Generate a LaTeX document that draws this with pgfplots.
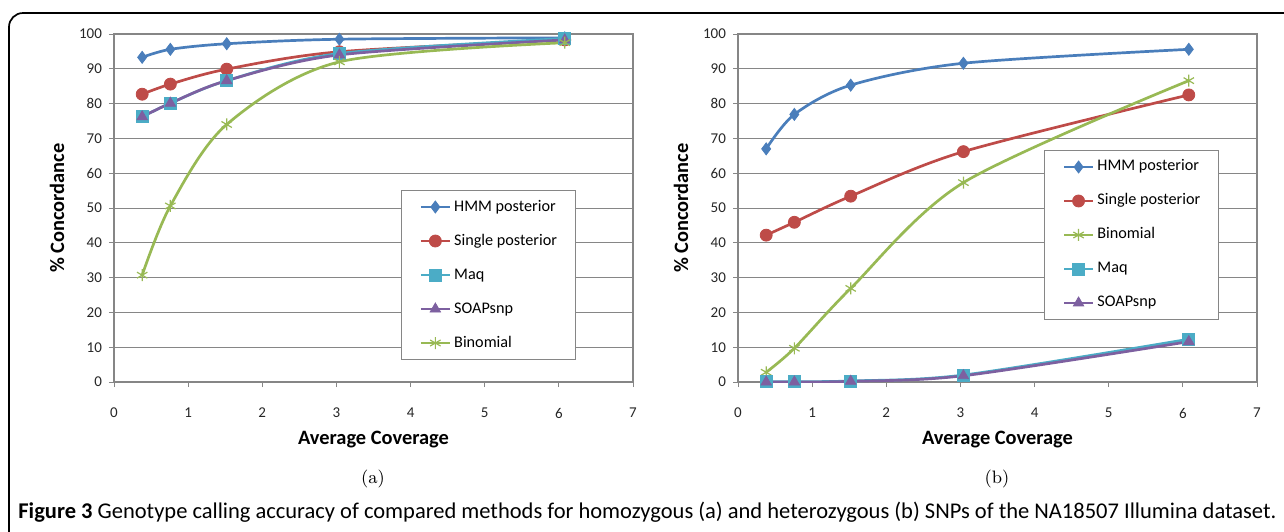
\documentclass[border=0pt]{standalone}
\usepackage{pgfplots}
\pgfplotsset{compat=1.18}
\usepackage{fontspec}
\newfontfamily\calibri{Carlito}
\definecolor{hmm}{HTML}{4A7EBB}
\definecolor{single}{HTML}{BE4B48}
\definecolor{maq}{HTML}{4BACC6}
\definecolor{soap}{HTML}{7D60A0}
\definecolor{binom}{HTML}{98B954}
\definecolor{gridgray}{HTML}{868686}

\pgfplotsset{
  myax/.style={
    scale only axis, width=259.5pt, height=174pt,
    xmin=0, xmax=7, ymin=0, ymax=100,
    xtick={0,1,...,7}, ytick={0,10,...,100},
    ymajorgrids, major grid style={color=gridgray, line width=0.5pt},
    axis line style={gridgray, line width=0.75pt},
    tick style={gridgray, line width=0.5pt},
    tick align=outside, major tick length=2.5pt,
    xtick pos=bottom, ytick pos=left,
    /pgf/number format/assume math mode=true,
    tick label style={font=\calibri\fontsize{7.5}{8}\selectfont, color=black!85},
    xticklabel style={yshift=-7pt},
    every axis x label/.style={at={(axis description cs:0.5,-0.166)}, anchor=center, font=\calibri\bfseries\fontsize{10.2}{12}\selectfont},
    every axis y label/.style={at={(axis description cs:-0.1098,0.5)}, rotate=90, anchor=center, font=\calibri\bfseries\fontsize{10.2}{12}\selectfont},
    xlabel={Average Coverage}, ylabel={\% Concordance},
    every axis plot/.append style={smooth, line width=1.35pt, mark size=3pt},
    legend image code/.code={\draw[mark repeat=2,mark phase=2] plot coordinates {(0pt,0pt)(7.25pt,0pt)(14.5pt,0pt)};},
    legend style={draw=gridgray, line width=0.5pt, fill=white,
      font=\calibri\fontsize{8.1}{9}\selectfont,
      inner xsep=9pt, inner ysep=4.3pt, row sep=9pt,
      cells={anchor=west},
      nodes={inner sep=0pt, text height=6pt, text depth=2pt},
      /tikz/every odd column/.append style={column sep=1.5pt}},
  },
  phmm/.style={color=hmm, mark=diamond*, mark options={fill=hmm, draw=hmm, line width=0.4pt}},
  psingle/.style={color=single, mark=*, mark options={fill=single, draw=single, line width=0.4pt}},
  pmaq/.style={color=maq, mark=square*, mark options={fill=maq, draw=maq, line width=0.4pt}},
  psoap/.style={color=soap, mark=triangle*, mark options={fill=soap, draw=soap, line width=0.4pt}},
  pbinom/.style={color=binom, mark=asterisk, mark options={draw=binom, line width=0.6pt}},
}

\begin{document}
\begin{tikzpicture}
\useasboundingbox (0,0) rectangle (642pt,-265.5pt);
\draw[line width=0.85pt, rounded corners=7pt] (4.5pt,-300pt) -- (4.5pt,-6.5pt) -- (700pt,-6.5pt);

\begin{axis}[myax, at={(57pt,-191pt)}, anchor=south west,
  legend style={at={(0.553,0.552)}, anchor=north west}]
\addplot[phmm] coordinates {(0.38,93.3) (0.76,95.6) (1.52,97.2) (3.04,98.5) (6.08,98.9)};
\addlegendentry{HMM posterior}
\addplot[psingle] coordinates {(0.38,82.7) (0.76,85.6) (1.52,89.9) (3.04,94.9) (6.08,98.3)};
\addlegendentry{Single posterior}
\addplot[pmaq] coordinates {(0.38,76.2) (0.76,80.1) (1.52,86.6) (3.04,94.4) (6.08,98.7)};
\addlegendentry{Maq}
\addplot[psoap] coordinates {(0.38,76.2) (0.76,80.1) (1.52,86.6) (3.04,94.0) (6.08,98.3)};
\addlegendentry{SOAPsnp}
\addplot[pbinom] coordinates {(0.38,30.7) (0.76,50.6) (1.52,74.0) (3.04,92.0) (6.08,97.5)};
\addlegendentry{Binomial}
\end{axis}

\begin{axis}[myax, at={(369pt,-191pt)}, anchor=south west,
  legend style={at={(0.590,0.667)}, anchor=north west}]
\addplot[phmm] coordinates {(0.38,67.0) (0.76,76.9) (1.52,85.3) (3.04,91.6) (6.08,95.6)};
\addlegendentry{HMM posterior}
\addplot[psingle] coordinates {(0.38,42.2) (0.76,45.9) (1.52,53.4) (3.04,66.2) (6.08,82.5)};
\addlegendentry{Single posterior}
\addplot[pbinom] coordinates {(0.38,2.8) (0.76,9.7) (1.52,26.9) (3.04,57.3) (6.08,86.6)};
\addlegendentry{Binomial}
\addplot[pmaq] coordinates {(0.38,0.1) (0.76,0.1) (1.52,0.3) (3.04,2.0) (6.08,12.3)};
\addlegendentry{Maq}
\addplot[psoap] coordinates {(0.38,0.0) (0.76,0.0) (1.52,0.2) (3.04,1.8) (6.08,11.6)};
\addlegendentry{SOAPsnp}
\end{axis}

\node[font=\fontsize{9}{11}\selectfont] at (186.5pt,-239.5pt) {(a)};
\node[font=\fontsize{9}{11}\selectfont] at (498.5pt,-239.5pt) {(b)};
\node[anchor=west, inner sep=0pt, font=\calibri\fontsize{11.25}{13}\selectfont] at (9pt,-256pt)
  {\textbf{Figure 3} Genotype calling accuracy of compared methods for homozygous (a) and heterozygous (b) SNPs of the NA18507 Illumina dataset.};
\end{tikzpicture}
\end{document}
